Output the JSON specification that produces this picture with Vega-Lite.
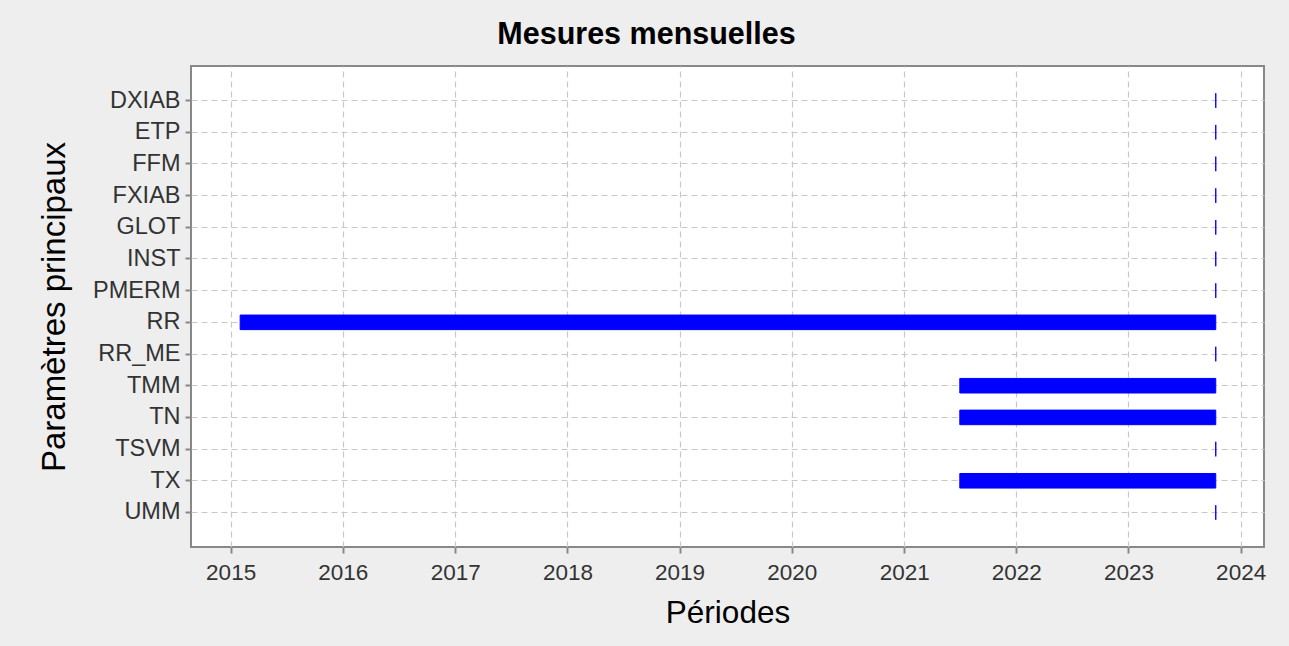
{
  "$schema": "https://vega.github.io/schema/vega-lite/v6.json",
  "autosize": {"type": "none"},
  "width": 1073,
  "height": 481,
  "padding": {"left": 191, "top": 66, "right": 25, "bottom": 99},
  "background": "#eeeeee",
  "title": {
    "text": "Mesures mensuelles",
    "font": "Liberation Sans",
    "fontSize": 30.5,
    "fontWeight": "bold",
    "color": "#000000",
    "anchor": "middle",
    "dx": -81,
    "offset": 16
  },
  "config": {
    "view": {"fill": "#ffffff", "stroke": "#888888", "strokeWidth": 2},
    "axis": {
      "labelFont": "Liberation Sans",
      "titleFont": "Liberation Sans",
      "labelColor": "#333333",
      "titleColor": "#000000",
      "labelFontSize": 22.5,
      "titleFontSize": 31.5,
      "titleFontWeight": "normal",
      "domain": false,
      "tickColor": "#888888",
      "tickWidth": 2,
      "tickSize": 6,
      "gridColor": "#c8c8c8",
      "gridDash": [6, 4],
      "gridWidth": 1.2
    }
  },
  "data": {
    "values": [
      {"param": "DXIAB", "start": "2023-10-12", "end": "2023-10-12"},
      {"param": "ETP", "start": "2023-10-12", "end": "2023-10-12"},
      {"param": "FFM", "start": "2023-10-12", "end": "2023-10-12"},
      {"param": "FXIAB", "start": "2023-10-12", "end": "2023-10-12"},
      {"param": "GLOT", "start": "2023-10-12", "end": "2023-10-12"},
      {"param": "INST", "start": "2023-10-12", "end": "2023-10-12"},
      {"param": "PMERM", "start": "2023-10-12", "end": "2023-10-12"},
      {"param": "RR", "start": "2015-02-01", "end": "2023-10-12"},
      {"param": "RR_ME", "start": "2023-10-12", "end": "2023-10-12"},
      {"param": "TMM", "start": "2021-07-01", "end": "2023-10-12"},
      {"param": "TN", "start": "2021-07-01", "end": "2023-10-12"},
      {"param": "TSVM", "start": "2023-10-12", "end": "2023-10-12"},
      {"param": "TX", "start": "2021-07-01", "end": "2023-10-12"},
      {"param": "UMM", "start": "2023-10-12", "end": "2023-10-12"}
    ]
  },
  "mark": {"type": "bar", "color": "#0000ff", "stroke": "#0000ff", "strokeWidth": 1},
  "encoding": {
    "y": {
      "field": "param",
      "type": "nominal",
      "sort": null,
      "title": "Paramètres principaux",
      "scale": {"paddingInner": 0.54, "paddingOuter": 0.86},
      "axis": {"bandPosition": 0.5, "grid": true, "labelPadding": 5, "labelFontSize": 23.5, "titlePadding": 21, "titleFontSize": 33}
    },
    "x": {
      "field": "start",
      "type": "temporal",
      "title": "Périodes",
      "scale": {"domain": ["2014-08-25", "2024-03-17"]},
      "axis": {"format": "%Y", "tickCount": {"interval": "year", "step": 1}, "grid": true, "labelPadding": 8, "titlePadding": 14}
    },
    "x2": {"field": "end"}
  }
}
